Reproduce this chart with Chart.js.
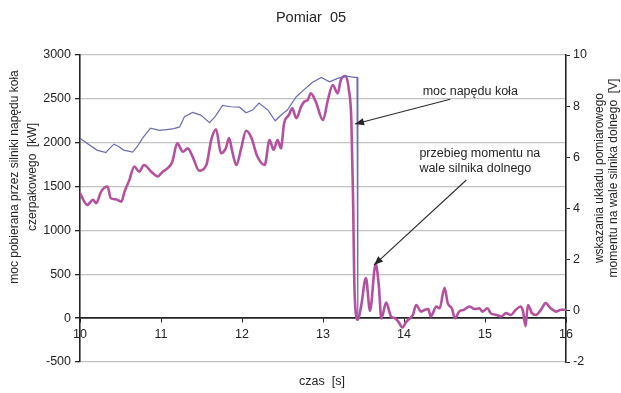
<!DOCTYPE html>
<html>
<head>
<meta charset="utf-8">
<title>Pomiar 05</title>
<script src="https://cdn.jsdelivr.net/npm/chart.js@4/dist/chart.umd.min.js"></script>
<style>
  html, body { margin: 0; padding: 0; background: #fff; }
  canvas { display: block; }
</style>
</head>
<body>
<canvas id="chart" width="621" height="393"></canvas>
<script>
// Moc napędu koła czerpakowego [kW] (oś lewa)
const powerTime = [10.00, 10.09, 10.21, 10.32, 10.36, 10.42, 10.47, 10.54, 10.65, 10.71, 10.77, 10.87, 10.98, 11.07, 11.16, 11.23, 11.29, 11.39, 11.49, 11.60, 11.67, 11.76, 11.86, 11.97, 12.05, 12.13, 12.21, 12.32, 12.41, 12.50, 12.56, 12.67, 12.77, 12.87, 12.98, 13.08, 13.18, 13.28, 13.39, 13.42, 13.43];
const powerKW   = [2050, 1992, 1916, 1888, 1930, 1984, 1960, 1916, 1892, 1960, 2050, 2165, 2140, 2150, 2160, 2180, 2296, 2345, 2315, 2228, 2300, 2425, 2410, 2405, 2341, 2372, 2452, 2372, 2250, 2330, 2372, 2524, 2608, 2690, 2745, 2695, 2733, 2760, 2745, 2745, 0];

// Przebieg momentu na wale silnika dolnego [V] (oś prawa)
const torqueTime = [10.00, 10.09, 10.16, 10.20, 10.26, 10.34, 10.38, 10.44, 10.51, 10.55, 10.61, 10.67, 10.73, 10.79, 10.88, 10.96, 11.02, 11.08, 11.14, 11.20, 11.27, 11.33, 11.39, 11.47, 11.56, 11.62, 11.68, 11.74, 11.80, 11.84, 11.88, 11.93, 11.99, 12.05, 12.11, 12.19, 12.28, 12.34, 12.39, 12.44, 12.48, 12.52, 12.58, 12.62, 12.67, 12.73, 12.77, 12.81, 12.85, 12.91, 13.00, 13.06, 13.12, 13.18, 13.22, 13.28, 13.32, 13.35, 13.37, 13.39, 13.43, 13.47, 13.53, 13.58, 13.65, 13.69, 13.72, 13.78, 13.84, 13.89, 13.93, 13.98, 14.03, 14.07, 14.11, 14.15, 14.21, 14.26, 14.30, 14.33, 14.40, 14.44, 14.50, 14.54, 14.59, 14.63, 14.68, 14.74, 14.81, 14.87, 14.93, 14.97, 15.03, 15.07, 15.14, 15.20, 15.26, 15.32, 15.38, 15.44, 15.47, 15.50, 15.53, 15.58, 15.63, 15.69, 15.75, 15.81, 15.88, 15.94, 16.00];
const torqueV    = [4.60, 4.14, 4.34, 4.21, 4.66, 4.86, 4.40, 4.36, 4.27, 4.66, 5.12, 5.64, 5.44, 5.70, 5.44, 5.25, 5.44, 5.57, 5.83, 6.55, 6.22, 6.35, 6.03, 5.48, 5.70, 6.68, 7.10, 6.16, 6.35, 6.75, 6.22, 5.70, 6.35, 7.04, 6.81, 6.03, 5.70, 6.68, 6.29, 6.68, 6.35, 7.33, 7.66, 7.92, 7.53, 7.98, 8.18, 8.24, 8.50, 8.18, 7.46, 8.24, 8.83, 8.50, 9.02, 9.18, 8.63, 7.46, 4.60, 0.70, -0.35, 0.17, 1.28, 0.00, 1.84, 0.95, -0.30, 0.32, -0.22, -0.29, -0.42, -0.65, -0.42, -0.30, -0.16, 0.23, -0.03, 0.04, 0.07, -0.22, 0.17, 0.10, 0.90, 0.30, 0.10, -0.29, -0.03, 0.04, 0.17, 0.07, 0.10, -0.03, 0.10, -0.09, -0.16, -0.22, -0.09, -0.16, 0.04, 0.17, -0.03, -0.60, 0.23, -0.09, -0.16, 0.04, 0.30, 0.10, -0.03, 0.04, 0.04];

// Podziałki osi
const timeTicks  = [10, 11, 12, 13, 14, 15, 16];
const powerTicks = [-500, 0, 500, 1000, 1500, 2000, 2500, 3000];
const voltTicks  = [-2, 0, 2, 4, 6, 8, 10];

const FONT = '"Liberation Sans", Arial, Helvetica, sans-serif';
const INK = '#252525';

const toPoints = (xs, ys) => xs.map((t, i) => ({ x: t, y: ys[i] }));
const fixedTicks = list => scale => { scale.ticks = list.map(v => ({ value: v })); };

function arrow(ctx, x0, y0, x1, y1) {
  ctx.beginPath();
  ctx.moveTo(x0, y0);
  ctx.lineTo(x1, y1);
  ctx.stroke();
  const a = Math.atan2(y1 - y0, x1 - x0), L = 9, W = 3.6;
  ctx.beginPath();
  ctx.moveTo(x1, y1);
  ctx.lineTo(x1 - L * Math.cos(a) + W * Math.sin(a), y1 - L * Math.sin(a) - W * Math.cos(a));
  ctx.lineTo(x1 - L * Math.cos(a) - W * Math.sin(a), y1 - L * Math.sin(a) + W * Math.cos(a));
  ctx.closePath();
  ctx.fill();
}

function rotatedText(ctx, text, x, y) {
  ctx.save();
  ctx.translate(x, y);
  ctx.rotate(-Math.PI / 2);
  ctx.fillText(text, 0, 0);
  ctx.restore();
}

// Tytuły, opisy osi i objaśnienia ze strzałkami
const decorations = {
  id: 'decorations',
  afterDraw(chart) {
    const { ctx, scales } = chart;
    const x = scales.x, y = scales.y, y1 = scales.y1;
    ctx.save();
    ctx.fillStyle = INK;
    ctx.strokeStyle = '#2a2a2a';
    ctx.lineWidth = 1.1;
    ctx.textBaseline = 'middle';
    ctx.textAlign = 'center';

    ctx.font = '14.5px ' + FONT;
    ctx.fillText('Pomiar  05', 311, 18);

    ctx.font = '12.5px ' + FONT;
    ctx.fillText('czas  [s]', 322, 382);

    ctx.font = '12px ' + FONT;
    rotatedText(ctx, 'moc pobierana przez silniki napędu koła', 15, 177);
    rotatedText(ctx, 'czerpakowego  [kW]', 33, 177);
    rotatedText(ctx, 'wskazania układu pomiarowego', 600, 178);
    rotatedText(ctx, 'momentu na wale silnika dolnego  [V]', 614, 178);

    // objaśnienie: moc napędu koła
    ctx.textAlign = 'left';
    ctx.font = '12.5px ' + FONT;
    ctx.fillText('moc napędu koła', x.getPixelForValue(14.23), y.getPixelForValue(2582));
    arrow(ctx,
      x.getPixelForValue(14.57), y.getPixelForValue(2495),
      x.getPixelForValue(13.395), y.getPixelForValue(2213));

    // objaśnienie: przebieg momentu
    ctx.fillText('przebieg momentu na', x.getPixelForValue(14.19), y.getPixelForValue(1875));
    ctx.fillText('wale silnika dolnego', x.getPixelForValue(14.19), y.getPixelForValue(1704));
    arrow(ctx,
      x.getPixelForValue(14.77), y.getPixelForValue(1575),
      x.getPixelForValue(13.63), y1.getPixelForValue(1.79));
    ctx.restore();
  }
};

new Chart(document.getElementById('chart'), {
  type: 'line',
  data: {
    datasets: [
      {
        label: 'moc napędu koła',
        data: toPoints(powerTime, powerKW),
        yAxisID: 'y',
        borderColor: '#6b6bb2',
        borderWidth: 1.2,
        pointRadius: 0,
        tension: 0,
        fill: false
      },
      {
        label: 'przebieg momentu na wale silnika dolnego',
        data: toPoints(torqueTime, torqueV),
        yAxisID: 'y1',
        borderColor: '#b4519f',
        borderWidth: 2.6,
        pointRadius: 0,
        cubicInterpolationMode: 'monotone',
        borderJoinStyle: 'round',
        fill: false
      }
    ]
  },
  options: {
    responsive: false,
    animation: false,
    devicePixelRatio: 1,
    layout: { padding: { top: 55, bottom: 31, left: 0, right: 0 } },
    plugins: {
      legend: { display: false },
      tooltip: { enabled: false },
      title: { display: false }
    },
    scales: {
      x: {
        type: 'linear',
        position: { y: 0 },
        min: 10, max: 16,
        afterBuildTicks: fixedTicks(timeTicks),
        grid: { drawOnChartArea: false, drawTicks: true, tickLength: 4, tickColor: INK },
        border: { display: true, color: INK, width: 1.5 },
        ticks: {
          color: INK, padding: 5, maxRotation: 0,
          font: { family: FONT, size: 12.5 },
          callback: v => String(v)
        }
      },
      y: {
        type: 'linear',
        position: 'left',
        min: -500, max: 3000,
        afterBuildTicks: fixedTicks(powerTicks),
        afterFit: s => { s.width = 80; },
        grid: {
          color: c => (c.tick && c.tick.value === 0) ? INK : '#c2c2c2',
          lineWidth: c => (c.tick && c.tick.value === 0) ? 1.5 : 1.3,
          tickLength: 5, tickColor: INK
        },
        border: { display: true, color: INK, width: 1.6 },
        ticks: {
          color: INK, padding: 4,
          font: { family: FONT, size: 12.5 },
          callback: v => String(v)
        }
      },
      y1: {
        type: 'linear',
        position: 'right',
        min: -2, max: 10,
        afterBuildTicks: fixedTicks(voltTicks),
        afterFit: s => { s.width = 55; },
        grid: { drawOnChartArea: false, tickLength: 4, tickColor: INK },
        border: { display: true, color: INK, width: 1.6 },
        ticks: {
          color: INK, padding: 3,
          font: { family: FONT, size: 12.5 },
          callback: v => String(v)
        }
      }
    }
  },
  plugins: [decorations]
});
</script>
</body>
</html>
